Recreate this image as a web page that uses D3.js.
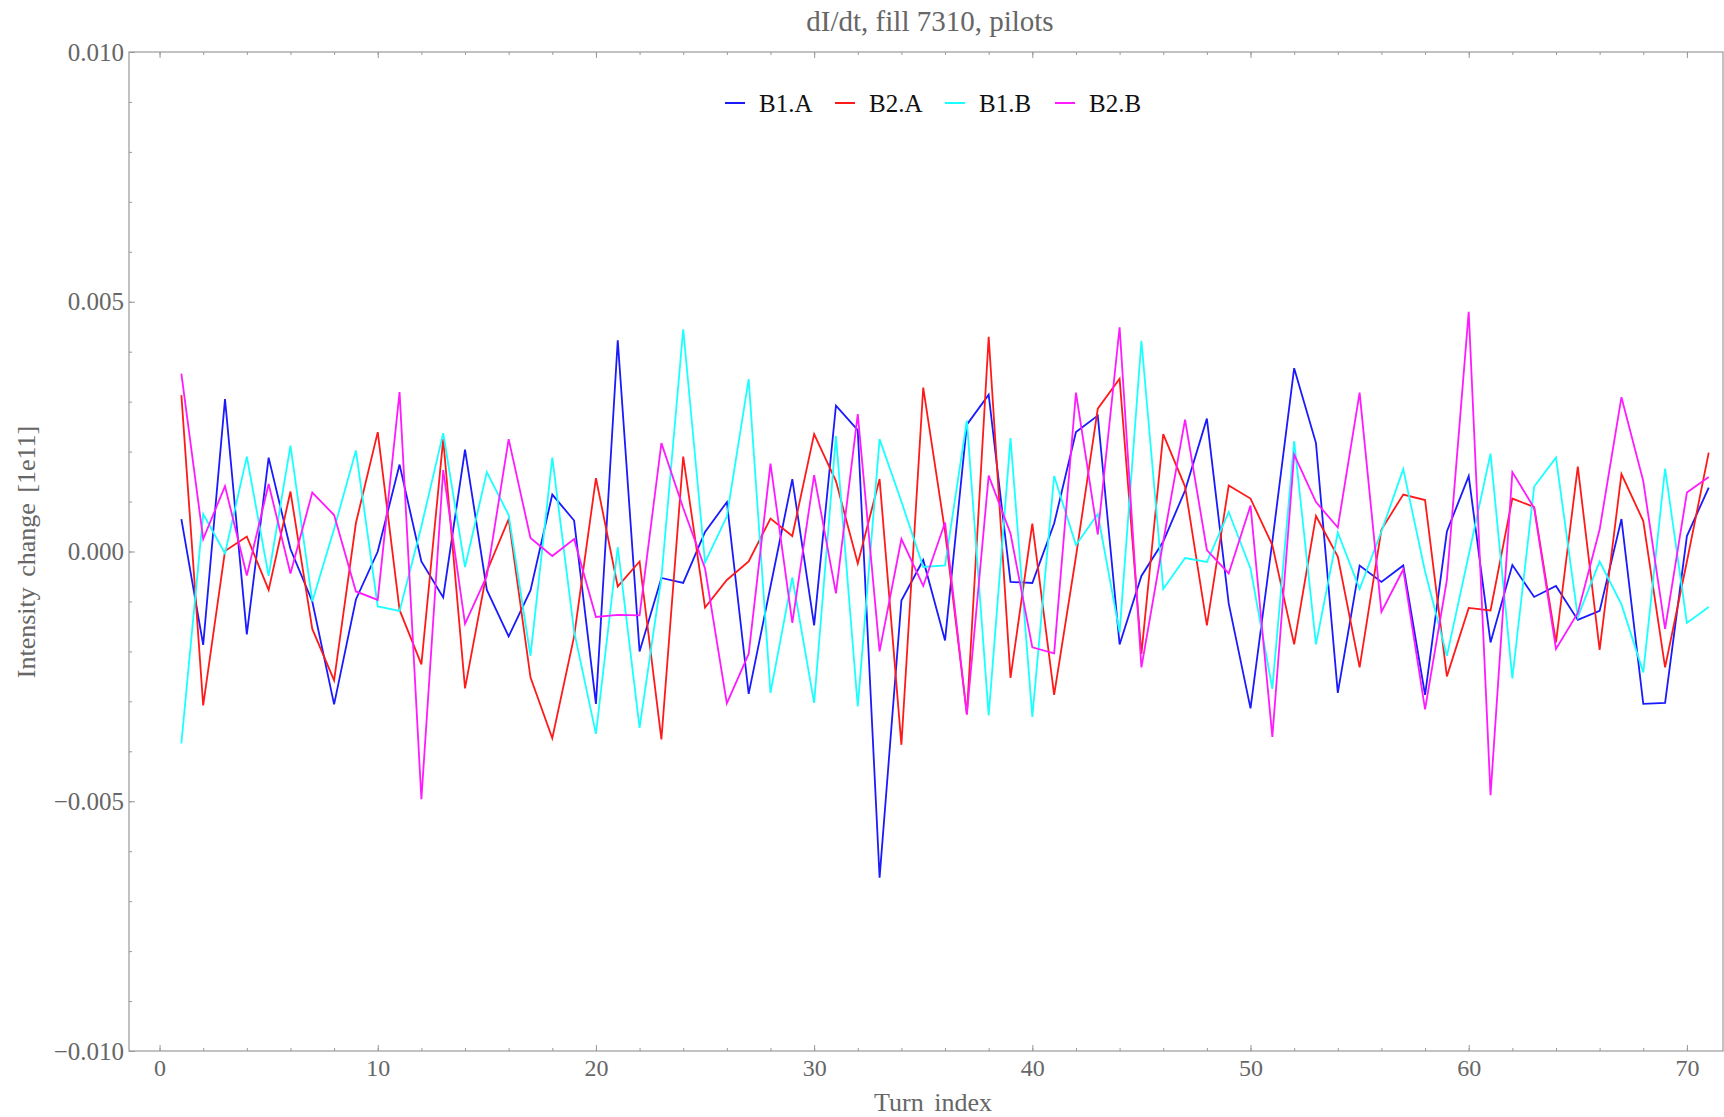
<!DOCTYPE html>
<html>
<head>
<meta charset="utf-8">
<script src="https://cdn.jsdelivr.net/npm/d3@7"></script>
<style>
  body { margin: 0; background: #fff; }
  text { font-family: "Liberation Serif", "Times New Roman", serif; fill: #666; }
  .frame path, .frame line { stroke: #999; }
</style>
</head>
<body>
<figure id="chart" style="margin:0"></figure>
<script>
// values in units of 1e-3
const unit = 1e-3;
const turns = d3.range(1, 72);
const seriesNames = ['B1.A', 'B2.A', 'B1.B', 'B2.B'];
const seriesColors = ['#1a1aff', '#ff1a1a', '#1affff', '#ff1aff'];

const b1a = [0.65, -1.87, 3.05, -1.66, 1.88, 0.05, -1.0, -3.06, -0.96, 0.0,
  1.74, -0.20, -0.92, 2.04, -0.77, -1.70, -0.78, 1.14, 0.62, -3.05,
  4.23, -2.0, -0.53, -0.63, 0.39, 0.99, -2.85, -0.7, 1.45, -1.48,
  2.92, 2.43, -6.53, -0.98, -0.17, -1.78, 2.54, 3.14, -0.61, -0.63,
  0.56, 2.39, 2.72, -1.86, -0.49, 0.2, 1.22, 2.66, -1.04, -3.14,
  0.2, 3.67, 2.17, -2.83, -0.28, -0.61, -0.28, -2.87, 0.40, 1.51,
  -1.82, -0.27, -0.91, -0.69, -1.37, -1.19, 0.65, -3.05, -3.03, 0.31,
  1.28];
const b2a = [3.13, -3.08, 0.01, 0.30, -0.77, 1.20, -1.55, -2.58, 0.57, 2.39,
  -1.17, -2.26, 2.25, -2.74, -0.4, 0.65, -2.52, -3.74, -1.7, 1.47,
  -0.70, -0.20, -3.76, 1.90, -1.12, -0.57, -0.20, 0.66, 0.31, 2.35,
  1.41, -0.24, 1.45, -3.87, 3.28, 0.4, -3.26, 4.30, -2.53, 0.56,
  -2.87, -0.1, 2.86, 3.46, -2.05, 2.35, 1.30, -1.48, 1.32, 1.06,
  0.13, -1.86, 0.71, -0.10, -2.32, 0.44, 1.14, 1.03, -2.50, -1.13,
  -1.18, 1.06, 0.89, -1.82, 1.70, -1.97, 1.55, 0.61, -2.32, -0.2,
  1.98];
const b1b = [-3.84, 0.75, -0.04, 1.90, -0.49, 2.12, -1.0, 0.45, 2.02, -1.10,
  -1.19, 0.5, 2.37, -0.31, 1.59, 0.73, -2.09, 1.88, -1.6, -3.65,
  0.09, -3.53, -0.53, 4.45, -0.22, 0.7, 3.45, -2.83, -0.52, -3.03,
  2.31, -3.10, 2.25, 1.0, -0.31, -0.28, 2.62, -3.28, 2.27, -3.31,
  1.51, 0.13, 0.75, -1.62, 4.22, -0.75, -0.13, -0.21, 0.79, -0.34,
  -2.75, 2.21, -1.86, 0.38, -0.75, 0.4, 1.65, -0.4, -2.09, -0.07,
  1.96, -2.54, 1.30, 1.88, -1.31, -0.20, -1.06, -2.42, 1.66, -1.43,
  -1.11];
const b2b = [3.56, 0.25, 1.31, -0.48, 1.35, -0.44, 1.18, 0.73, -0.8, -0.97,
  3.19, -4.96, 1.63, -1.45, -0.49, 2.25, 0.27, -0.09, 0.25, -1.31,
  -1.27, -1.28, 2.17, 0.87, -0.34, -3.04, -2.05, 1.76, -1.43, 1.53,
  -0.84, 2.75, -2.0, 0.25, -0.69, 0.58, -3.26, 1.52, 0.36, -1.92,
  -2.04, 3.18, 0.34, 4.49, -2.32, 0.2, 2.64, 0.03, -0.44, 0.92,
  -3.71, 1.94, 0.99, 0.48, 3.18, -1.21, -0.36, -3.16, -0.57, 4.80,
  -4.88, 1.59, 0.87, -1.95, -1.23, 0.44, 3.09, 1.41, -1.55, 1.18,
  1.49];

const xTicks = d3.range(0, 71, 10);
const yTicks = [-0.010, -0.005, 0.000, 0.005, 0.010];

const dimensions = {
  width: 1724,
  height: 1117,
  margin: { top: 52, right: 0, bottom: 66, left: 129 },
};
dimensions.boundedWidth = dimensions.width - dimensions.margin.left - dimensions.margin.right;
dimensions.boundedHeight = dimensions.height - dimensions.margin.top - dimensions.margin.bottom;

const root = d3.select('figure#chart')
  .append('svg')
  .attr('width', dimensions.width)
  .attr('height', dimensions.height);

const svg = root.append('g')
  .attr('transform', `translate(${dimensions.margin.left}, ${dimensions.margin.top})`);

const xScale = d3.scaleLinear().domain([-1.4, 71.7]).range([0, dimensions.boundedWidth]);
const yScale = d3.scaleLinear().domain([-0.01, 0.01]).range([dimensions.boundedHeight, 0]);

// frame
svg.append('rect')
  .attr('width', dimensions.boundedWidth - 1)
  .attr('height', dimensions.boundedHeight)
  .attr('fill', 'none')
  .attr('stroke', '#999')
  .attr('stroke-width', 1.2);

// minor ticks
const minorX = d3.range(0, 72, 2);
const minorY = d3.range(-10, 11).map(d => d * unit);
svg.append('g').attr('class', 'frame')
  .attr('transform', `translate(0,${dimensions.boundedHeight})`)
  .call(d3.axisBottom(xScale).tickValues(minorX).tickSize(-3).tickFormat(''));
svg.append('g').attr('class', 'frame')
  .call(d3.axisTop(xScale).tickValues(minorX).tickSize(-3).tickFormat(''));
svg.append('g').attr('class', 'frame')
  .call(d3.axisLeft(yScale).tickValues(minorY).tickSize(-3).tickFormat(''));

// major ticks with labels
const xAxis = svg.append('g').attr('class', 'frame')
  .attr('transform', `translate(0,${dimensions.boundedHeight})`)
  .call(d3.axisBottom(xScale).tickValues(xTicks).tickSize(-6).tickPadding(8));
svg.append('g').attr('class', 'frame')
  .call(d3.axisTop(xScale).tickValues(xTicks).tickSize(-6).tickFormat(''));
const yAxis = svg.append('g').attr('class', 'frame')
  .call(d3.axisLeft(yScale).tickValues(yTicks).tickSize(-6).tickPadding(5).tickFormat(d3.format('.3f')));

svg.selectAll('.frame .domain').remove();
xAxis.selectAll('text').attr('font-size', 24).attr('fill', '#666').style('font-family', '"Liberation Serif", serif');
yAxis.selectAll('text').attr('font-size', 25).attr('fill', '#666').style('font-family', '"Liberation Serif", serif');

// lines
const allSeries = [b1a, b2a, b1b, b2b];
const line = d3.line()
  .x((d, i) => xScale(turns[i]))
  .y(d => yScale(d * unit));

svg.selectAll('.series')
  .data(allSeries)
  .enter()
  .append('path')
  .attr('class', 'series')
  .attr('d', d => line(d))
  .attr('fill', 'none')
  .attr('stroke', (d, i) => seriesColors[i])
  .attr('stroke-width', 1.8)
  .attr('stroke-linejoin', 'miter');

// title and axis labels
root.append('text')
  .attr('x', 930)
  .attr('y', 31)
  .attr('text-anchor', 'middle')
  .attr('font-size', 29)
  .text('dI/dt, fill 7310, pilots');

root.append('text')
  .attr('x', 933)
  .attr('y', 1111)
  .attr('text-anchor', 'middle')
  .attr('font-size', 26)
  .attr('word-spacing', 4)
  .text('Turn index');

root.append('text')
  .attr('transform', 'translate(35,552) rotate(-90)')
  .attr('text-anchor', 'middle')
  .attr('font-size', 26)
  .attr('word-spacing', 4)
  .text('Intensity change [1e11]');

// legend
const legend = root.append('g').attr('transform', 'translate(725,103)');
const items = legend.selectAll('g')
  .data(seriesNames)
  .enter()
  .append('g')
  .attr('transform', (d, i) => `translate(${i * 110},0)`);
items.append('line')
  .attr('x1', 0).attr('x2', 20)
  .attr('stroke', (d, i) => seriesColors[i])
  .attr('stroke-width', 2);
items.append('text')
  .attr('x', 34)
  .attr('y', 9)
  .attr('font-size', 25)
  .style('fill', '#111')
  .text(d => d);
</script>
</body>
</html>
